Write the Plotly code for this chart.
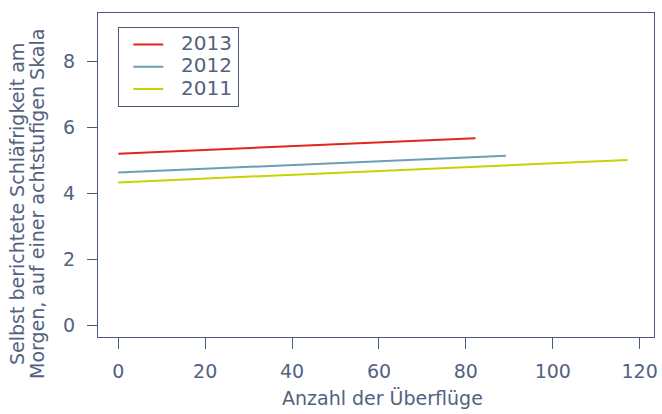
import plotly.graph_objects as go

years = ["2013", "2012", "2011"]
x_start = [0, 0, 0]
x_end = [82.2, 89.2, 117.2]
y_start = [5.21, 4.64, 4.34]
y_end = [5.68, 5.15, 5.02]
colors = ["#e3261d", "#6c9fb5", "#c6d400"]

x_ticks = [0, 20, 40, 60, 80, 100, 120]
y_ticks = [0, 2, 4, 6, 8]
x_title = "Anzahl der Überflüge"
y_title_lines = ["Selbst berichtete Schläfrigkeit am", "Morgen, auf einer achtstufigen Skala"]

FONT = "DejaVu Sans"
TXT = "#52627f"
LINEC = "#4b5b7a"
WT = 400
W, H = 662, 414
ML, MR, MT, MB = 98, 8, 13, 77

fig = go.Figure()
for yr, xs, xe, ys, ye, c in zip(years, x_start, x_end, y_start, y_end, colors):
    fig.add_trace(go.Scatter(
        x=[xs, xe], y=[ys, ye], mode="lines",
        name='<span style="font-size:20px">\u00a0\u00a0' + yr + '</span>',
        line=dict(color=c, width=2)))

pw = W - ML - MR
ph = H - MT - MB
annotations = [
    dict(text=x_title, xref="paper", yref="paper",
         x=(382 - ML) / pw, y=-(411 - (H - MB)) / ph, xanchor="center", yanchor="bottom",
         showarrow=False, font=dict(size=19, family=FONT, color=TXT, weight=WT)),
]
for i, (line, cx) in enumerate(zip(y_title_lines, [17, 37])):
    annotations.append(dict(text=line, xref="paper", yref="paper", textangle=-90,
                            x=(cx - ML) / pw, y=(H - MB - 204) / ph,
                            xanchor="center", yanchor="middle", showarrow=False,
                            font=dict(size=19, family=FONT, color=TXT, weight=WT)))

fig.update_layout(
    width=W, height=H,
    margin=dict(l=ML, r=MR, t=MT, b=MB),
    paper_bgcolor="white", plot_bgcolor="white",
    font=dict(family=FONT, color=TXT, size=18, weight=WT),
    showlegend=True,
    annotations=annotations,
    legend=dict(x=(118 - ML) / pw, y=1 - (27 - MT) / ph, xanchor="left", yanchor="top",
                bordercolor=LINEC, borderwidth=1.3, bgcolor="white",
                font=dict(size=14.8, family=FONT, color=TXT, weight=WT),
                tracegroupgap=0, itemwidth=30, indentation=9),
)
axis_common = dict(ticks="outside", tickwidth=1.3, tickcolor=LINEC, showline=True,
                   linecolor=LINEC, linewidth=1.3, mirror=True, showgrid=False,
                   zeroline=False, automargin=False,
                   tickfont=dict(size=19, family=FONT, color=TXT, weight=WT))
fig.update_xaxes(range=[-4.67, 123.3], tickvals=x_ticks, ticklen=11,
                 ticklabelstandoff=6, **axis_common)
fig.update_yaxes(range=[-0.35, 9.48], tickvals=y_ticks, ticklen=10,
                 ticklabelstandoff=8, **axis_common)

fig.write_html("out.html", config={"displayModeBar": False},
               post_script="document.body.style.margin='0';document.body.style.padding='0';")
